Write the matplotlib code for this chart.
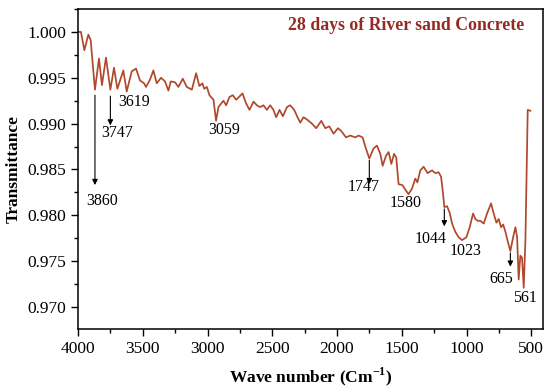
import matplotlib
matplotlib.use("Agg")
import matplotlib.pyplot as plt
from matplotlib.ticker import MultipleLocator, FormatStrFormatter

plt.rcParams.update({"font.family": "Liberation Serif", "font.size": 12.5,
                     "mathtext.fontset": "custom", "mathtext.rm": "Liberation Serif",
                     "mathtext.bf": "Liberation Serif:bold"})

# FTIR spectrum
wavenumber = [4000, 3977, 3951, 3920, 3902, 3869, 3838, 3815, 3784, 3750, 3722, 3696, 3650, 3624,
              3585, 3552, 3521, 3490, 3475, 3444, 3418, 3392, 3359, 3328, 3302, 3284, 3250, 3225,
              3191, 3160, 3121, 3088, 3063, 3039, 3026, 3005, 2985, 2954, 2934, 2916, 2877, 2856,
              2831, 2805, 2779, 2730, 2702, 2676, 2645, 2619, 2594, 2568, 2542, 2516, 2491, 2470,
              2444, 2418, 2387, 2362, 2331, 2305, 2284, 2259, 2228, 2194, 2161, 2122, 2091, 2060,
              2027, 1993, 1968, 1931, 1898, 1859, 1834, 1803, 1782, 1751, 1718, 1692, 1666, 1648,
              1622, 1602, 1581, 1560, 1543, 1525, 1496, 1468, 1448, 1422, 1396, 1380, 1357, 1332,
              1301, 1267, 1241, 1216, 1197, 1182, 1172, 1151, 1131, 1112, 1087, 1061, 1035, 1002,
              976, 950, 932, 914, 894, 868, 842, 811, 791, 770, 752, 734, 718, 700, 683, 662, 641,
              623, 610, 598, 585, 572, 559, 546, 528, 507]
transmittance = [1.0000, 1.0000, 0.9980, 0.9997, 0.9991, 0.9937, 0.9971, 0.9942, 0.9972, 0.9937,
                 0.9961, 0.9938, 0.9958, 0.9935, 0.9957, 0.9960, 0.9947, 0.9944, 0.9940, 0.9948,
                 0.9958, 0.9944, 0.9950, 0.9946, 0.9936, 0.9946, 0.9945, 0.9940, 0.9949, 0.9940,
                 0.9937, 0.9955, 0.9941, 0.9944, 0.9938, 0.9940, 0.9931, 0.9926, 0.9903, 0.9918,
                 0.9925, 0.9920, 0.9929, 0.9931, 0.9926, 0.9933, 0.9922, 0.9915, 0.9924, 0.9920,
                 0.9918, 0.9920, 0.9915, 0.9920, 0.9915, 0.9907, 0.9915, 0.9908, 0.9918, 0.9920,
                 0.9915, 0.9907, 0.9901, 0.9907, 0.9904, 0.9900, 0.9895, 0.9903, 0.9895, 0.9897,
                 0.9889, 0.9895, 0.9892, 0.9885, 0.9887, 0.9885, 0.9887, 0.9885, 0.9875, 0.9862,
                 0.9873, 0.9876, 0.9867, 0.9854, 0.9865, 0.9869, 0.9856, 0.9867, 0.9863, 0.9834,
                 0.9833, 0.9827, 0.9823, 0.9829, 0.9840, 0.9836, 0.9849, 0.9853, 0.9846, 0.9849,
                 0.9846, 0.9847, 0.9842, 0.9824, 0.9809, 0.9810, 0.9803, 0.9791, 0.9782, 0.9776,
                 0.9773, 0.9776, 0.9787, 0.9802, 0.9796, 0.9794, 0.9794, 0.9791, 0.9802, 0.9813,
                 0.9802, 0.9792, 0.9796, 0.9787, 0.9790, 0.9782, 0.9772, 0.9761, 0.9776, 0.9787,
                 0.9776, 0.9730, 0.9756, 0.9754, 0.9721, 0.9772, 0.9915, 0.9914]

# peak labels: text, text position, optional arrow (x, y_start, y_end)
peak_labels = ["3860", "3747", "3619", "3059", "1747", "1580", "1044", "1023", "665", "561"]
label_x = [3815, 3699, 3563, 2872, 1798, 1473, 1280, 1009, 731, 546]
label_y = [0.9816, 0.9890, 0.99237, 0.98928, 0.98310, 0.98133, 0.97746, 0.97615, 0.97309, 0.97101]
arrow_x = [3869, 3750, None, None, 1751, None, 1172, None, 662, None]
arrow_y0 = [0.9931, 0.9930, None, None, 0.9860, None, 0.9807, None, 0.9759, None]
arrow_y1 = [0.9833, 0.9898, None, None, 0.9834, None, 0.9788, None, 0.9744, None]

fig = plt.figure(figsize=(5.5, 3.88), dpi=100)
ax = fig.add_axes([0.1418, 0.152, 0.8455, 0.8248])

ax.plot(wavenumber, transmittance, color="#b0482c", lw=1.25)

for i, lab in enumerate(peak_labels):
    if arrow_x[i] is not None:
        ax.annotate("", xy=(arrow_x[i], arrow_y1[i]), xytext=(arrow_x[i], arrow_y0[i]),
                    arrowprops=dict(arrowstyle="-|>", color="black", lw=0.8,
                                    mutation_scale=8, shrinkA=0, shrinkB=0))
    ax.text(label_x[i], label_y[i], lab, ha="center", va="center", fontsize=11.5)

ax.text(0.705, 0.95, "28 days of River sand Concrete", transform=ax.transAxes,
        ha="center", va="center", fontsize=12.8, fontweight="bold", color="#962a22")

ax.set_xlim(4000, 410)
ax.set_ylim(0.9676, 1.0025)
ax.xaxis.set_major_locator(MultipleLocator(500))
ax.xaxis.set_minor_locator(MultipleLocator(250))
ax.yaxis.set_major_locator(MultipleLocator(0.005))
ax.yaxis.set_minor_locator(MultipleLocator(0.0025))
ax.yaxis.set_major_formatter(FormatStrFormatter("%.3f"))
ax.tick_params(which="major", direction="out", length=5, width=1)
ax.tick_params(which="minor", direction="out", length=3, width=1)
for sp in ax.spines.values():
    sp.set_linewidth(1.1)

ax.set_xlabel(r"Wave number (Cm$^{\mathbf{-1}}$)", fontweight="bold", fontsize=12.5, labelpad=6)
ax.set_ylabel("Transmittance", fontweight="bold", fontsize=12.5, labelpad=4)

fig.savefig("out.png", dpi=100)
